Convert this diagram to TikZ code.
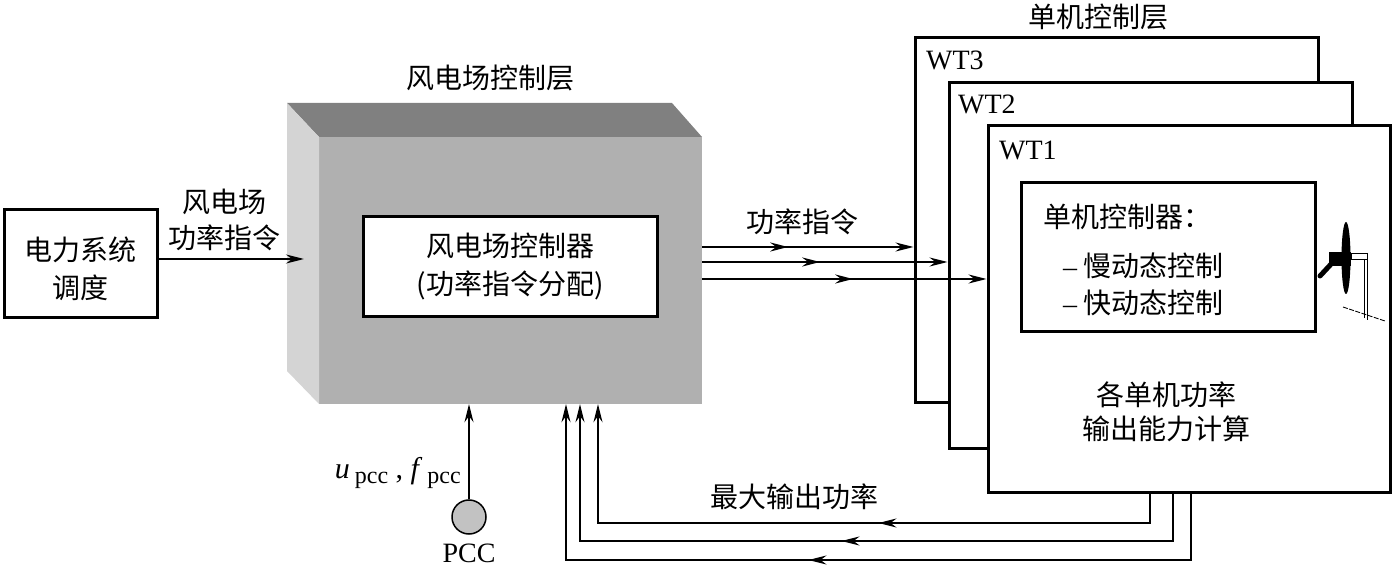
\documentclass[tikz,border=0pt]{standalone}
\usepackage{fontspec}
\setmainfont{Liberation Serif}
\newfontfamily\cjk{Noto Sans CJK SC}
\usetikzlibrary{arrows.meta,decorations.markings,calc}
\definecolor{topgray}{gray}{0.50}
\definecolor{sidegray}{gray}{0.83}
\definecolor{frontgray}{gray}{0.69}
\definecolor{pccgray}{gray}{0.76}
\tikzset{
  cn/.style={font=\cjk\fontsize{28}{#1}\selectfont, inner sep=0pt},
  cn/.default=38,
  lat/.style={font=\fontsize{28}{34}\selectfont, inner sep=0pt},
  thickbox/.style={draw, line width=3pt, fill=white, inner sep=0pt},
  tipstyle/.style={},
  flow/.style={line width=1.8pt, -{Stealth[length=18pt,width=9pt,inset=6pt]}},
  midarr/.style={postaction={decorate}, decoration={markings,
      mark=at position #1 with {\arrow{Stealth[length=18pt,width=9pt,inset=6pt]}}}},
}
\begin{document}
\begin{tikzpicture}[x=1pt,y=-1pt]
\useasboundingbox (0,0) rectangle (1393,569);

% ---- wind farm control layer (3D box) ----
\node[fill=frontgray, minimum width=383pt, minimum height=267pt, inner sep=0pt] (farm) at (510.5,270.5) {};
\fill[topgray] (287,103) -- (672,103) -- (702,137) -- (319,137) -- cycle;
\fill[sidegray] (287,103) -- (319,137) -- (319,404) -- (287,371) -- cycle;
\node[cn] (farmlbl) at (490,78) {风电场控制层};
\node[thickbox, minimum width=294pt, minimum height=100pt] (fctrl) at (510,267) {};
\node[cn, align=center] (fctrltxt) at (510,266) {风电场控制器\\(功率指令分配)};

% ---- dispatch ----
\node[thickbox, minimum width=153pt, minimum height=108pt] (disp) at (80.5,264) {};
\node[cn, align=center] (disptxt) at (80.5,269) {电力系统\\调度};
\node[cn=36, align=center] (cmdlbl) at (224,220) {风电场\\功率指令};
\coordinate (ly) at (0,259);
\coordinate (fin) at (304,259);
\draw[flow] (disp.east |- ly) -- (fin);

% ---- unit control layer ----
\node[cn] (unitlbl) at (1098,17) {单机控制层};
\node[thickbox, minimum width=403pt, minimum height=365pt] (wt3) at (1116.5,220.5) {};
\node[lat, anchor=west] (wt3lbl) at (926,60) {WT3};
\node[thickbox, minimum width=403pt, minimum height=365pt] (wt2) at (1150.5,265.5) {};
\node[lat, anchor=west] (wt2lbl) at (958,104) {WT2};
\node[thickbox, minimum width=402pt, minimum height=366pt] (wt1) at (1189,309) {};
\node[lat, anchor=west] (wt1lbl) at (999,150) {WT1};

\node[thickbox, minimum width=294pt, minimum height=149pt] (uctrl) at (1168,257.5) {};
\node[cn, anchor=west] (u1) at (1043,217) {单机控制器：};
\node[cn, anchor=west] (u2) at (1063,266) {{\rmfamily –} 慢动态控制};
\node[cn, anchor=west] (u3) at (1063,303) {{\rmfamily –} 快动态控制};
\node[cn=34, align=center] (calc) at (1166,412) {各单机功率\\输出能力计算};

% turbine icon
\fill[black] (1346,258) ellipse [x radius=4.5, y radius=36];
\fill[black] (1329,252) rectangle (1351,266);
\draw[line width=5pt, line cap=round] (1333,262) -- (1320,276);
\draw[line width=0.8pt] (1351,253) rectangle (1367,259);
\draw[line width=0.8pt] (1367,253) -- (1367,320);
\draw[line width=0.8pt] (1364,259) -- (1364,318);
\draw[line width=0.9pt, dash pattern=on 5pt off 1.5pt] (1343,307) -- (1385,321);

% ---- power command arrows ----
\node[cn] (pwrlbl) at (802,222) {功率指令};
\coordinate (r1) at (0,247);
\coordinate (r2) at (0,262);
\coordinate (r3) at (0,279);
\draw[flow, midarr=86pt] (farm.east |- r1) -- (wt3.west |- r1);
\draw[flow, midarr=118pt] (farm.east |- r2) -- (wt2.west |- r2);
\draw[flow, midarr=151pt] (farm.east |- r3) -- (wt1.west |- r3);

% ---- max output power feedback ----
\node[cn] (maxlbl) at (794,497) {最大输出功率};
\coordinate (d1) at (1150,523);
\coordinate (d2) at (1173,541);
\coordinate (d3) at (1191,560);
\coordinate (e1) at (598,0);
\coordinate (e2) at (580,0);
\coordinate (e3) at (566,0);
\draw[flow, midarr=301pt] (wt1.south -| d1) -- (d1) -- (d1 -| e1) -- (e1 |- farm.south);
\draw[flow, midarr=379pt] (wt1.south -| d2) -- (d2) -- (d2 -| e2) -- (e2 |- farm.south);
\draw[flow, midarr=449pt] (wt1.south -| d3) -- (d3) -- (d3 -| e3) -- (e3 |- farm.south);

% ---- PCC ----
\node[circle, draw, line width=1.5pt, fill=pccgray, minimum size=34pt, inner sep=0pt] (pcc) at (469,517) {};
\node[lat] (pcclbl) at (469,553) {PCC};
\node[lat, anchor=east, font=\fontsize{30}{34}\selectfont] (ulbl) at (461,473)
  {\textit{u}\,\raisebox{-0.3ex}{\fontsize{24}{28}\selectfont pcc}\ , \textit{f}\,\raisebox{-0.3ex}{\fontsize{24}{28}\selectfont pcc}};
\draw[flow] (pcc) -- (pcc |- farm.south);
\end{tikzpicture}
\end{document}
